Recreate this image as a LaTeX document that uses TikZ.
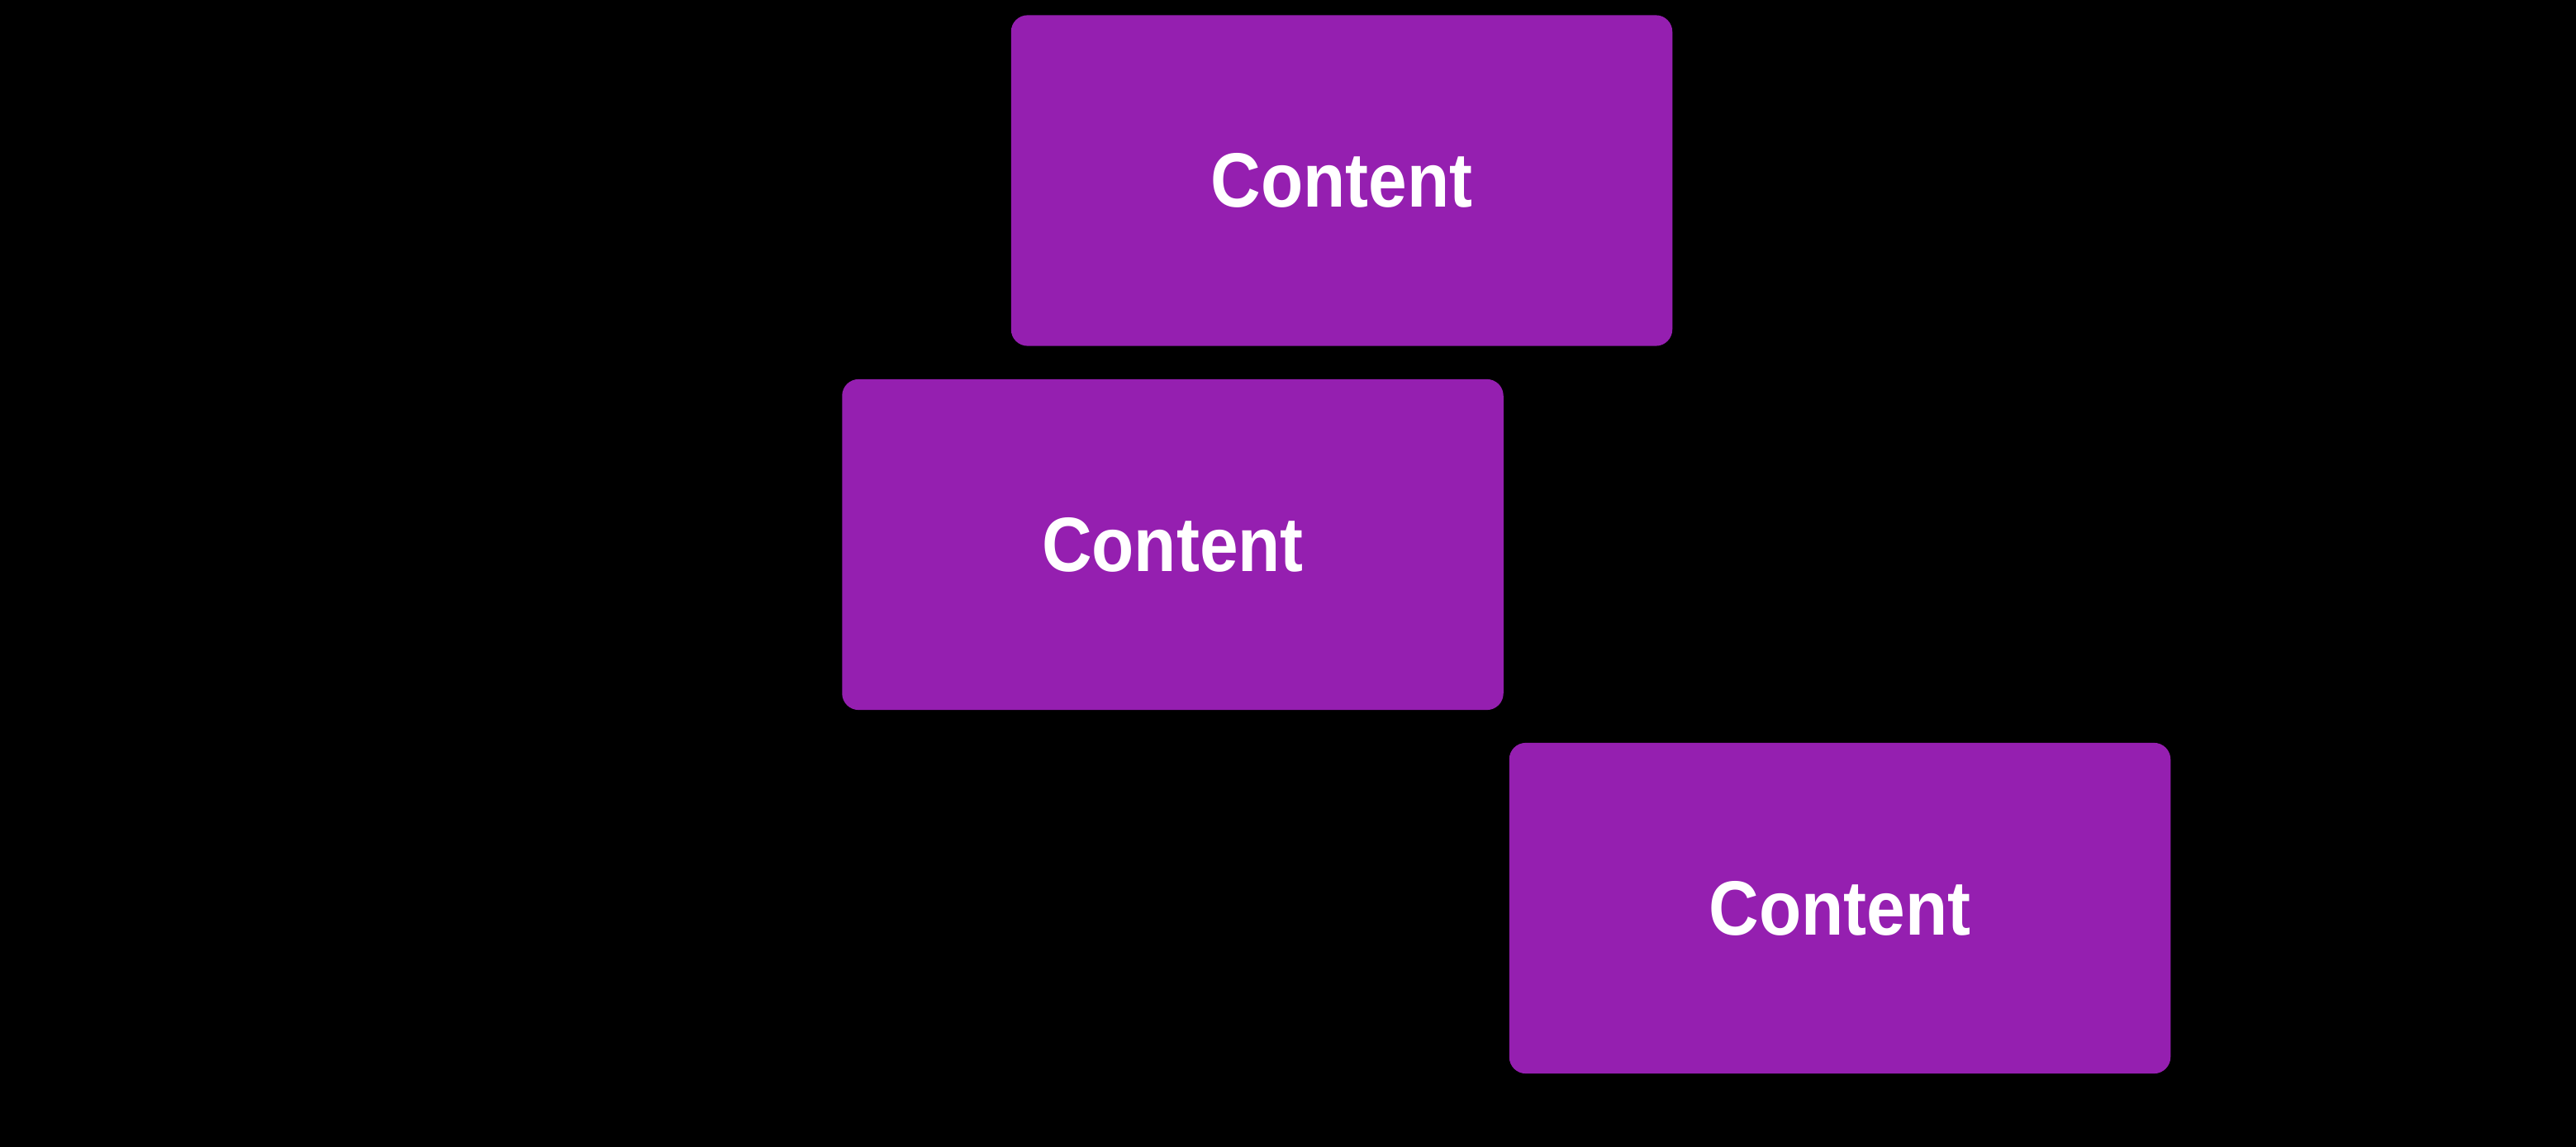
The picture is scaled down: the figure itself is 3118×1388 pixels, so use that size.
\documentclass[tikz,border=0pt]{standalone}
\usepackage{fontspec}
\setmainfont{Liberation Sans}
\definecolor{boxpurple}{RGB}{149,31,176}
\begin{document}
\begin{tikzpicture}[x=0.01cm,y=-0.01cm,
  cbox/.style={fill=boxpurple, draw=none, rounded corners=0.2cm, minimum width=8cm, minimum height=4cm, inner sep=0pt, text=white, font=\fontsize{26.5pt}{30pt}\selectfont\bfseries}]
\fill[black] (0,0) rectangle (3118,1388);
\useasboundingbox (0,0) rectangle (3118,1388);
\node[cbox] (b1) at (1624,218.5) {\scalebox{0.9}[1]{Content}};
\node[cbox] (b2) at (1419.5,659) {\scalebox{0.9}[1]{Content}};
\node[cbox] (b3) at (2227,1099) {\scalebox{0.9}[1]{Content}};
\end{tikzpicture}
\end{document}
